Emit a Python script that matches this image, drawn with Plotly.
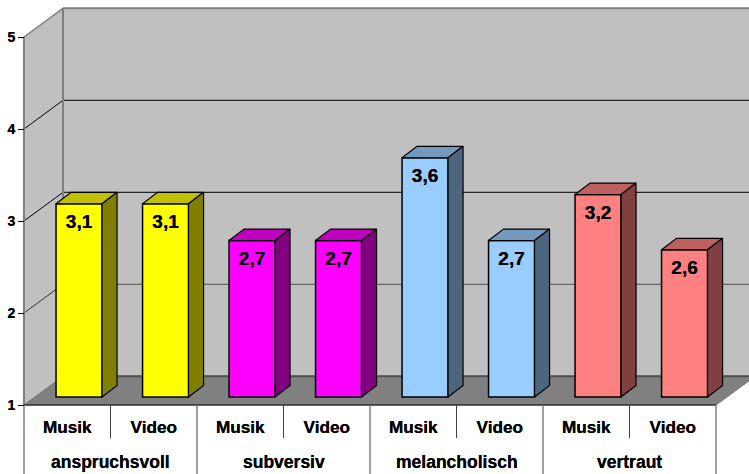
import plotly.graph_objects as go

groups = ["anspruchsvoll", "subversiv", "melancholisch", "vertraut"]
media = ["Musik", "Video"]
values = [3.1, 3.1, 2.7, 2.7, 3.6, 2.7, 3.2, 2.6]
front_colors = ["#FFFF00", "#FFFF00", "#FF00FF", "#FF00FF", "#99CCFF", "#99CCFF", "#FF8080", "#FF8080"]
top_colors = ["#C0C000", "#C0C000", "#C000C0", "#C000C0", "#7399BF", "#7399BF", "#BF6060", "#BF6060"]
side_colors = ["#808000", "#808000", "#800080", "#800080", "#4D6680", "#4D6680", "#804040", "#804040"]
value_ticks = [1, 2, 3, 4, 5]

W, H = 749, 474
PX_X, PX_Y = 86.5, 92.0          # pixels per category / per value unit
X0_PX, Y1_PX = 24.0, 405.0       # pixel of category 0 and of value 1
n = len(values)

wall_dx, wall_dy = 39 / PX_X, 28.7 / PX_Y
bar_dx, bar_dy = 11.8 / PX_X, 8 / PX_Y
depth_dx, depth_dy = 15 / PX_X, 11.5 / PX_Y
bar_w = 46 / PX_X

x_range = [-X0_PX / PX_X, (W - X0_PX) / PX_X]
y_range = [1 - (H - Y1_PX) / PX_Y, 1 + Y1_PX / PX_Y]
label_bottom = y_range[0]
sub_bottom = 1 - 33 / PX_Y
GREY = "#808080"
SHADOW = "0 0 0.6px #000000"


def poly(xs, ys, fill, line=None, width=1):
    path = "M " + " L ".join(f"{a},{b}" for a, b in zip(xs, ys)) + " Z"
    return dict(type="path", path=path, xref="x", yref="y", layer="below",
                fillcolor=fill, line=dict(color=line or fill, width=width))


def seg(x0, y0, x1, y1, color, width=1):
    return dict(type="line", x0=x0, y0=y0, x1=x1, y1=y1, xref="x", yref="y",
                layer="below", line=dict(color=color, width=width))


ymin, ymax = value_ticks[0], value_ticks[-1]
right_end = x_range[1] + 1
shapes = [
    poly([wall_dx, right_end, right_end, wall_dx],
         [ymin + wall_dy, ymin + wall_dy, ymax + wall_dy, ymax + wall_dy], "#C0C0C0"),
    poly([0, wall_dx, wall_dx, 0],
         [ymin, ymin + wall_dy, ymax + wall_dy, ymax], "#C0C0C0"),
    poly([0, wall_dx, n + wall_dx, n],
         [ymin, ymin + wall_dy, ymin + wall_dy, ymin], GREY),
]
for v in value_ticks[1:-1]:
    color = "#000000" if v > 2 else "#505050"
    shapes.append(seg(0, v, wall_dx, v + wall_dy, "#000000" if v > 2 else "#303030"))
    shapes.append(seg(wall_dx, v + wall_dy, right_end, v + wall_dy, color))
# wall edges
shapes += [
    seg(0, ymax, wall_dx, ymax + wall_dy, GREY, 1.5),
    seg(wall_dx, ymax + wall_dy, right_end, ymax + wall_dy, GREY, 2),
    seg(wall_dx, ymin + wall_dy, wall_dx, ymax + wall_dy, GREY, 2),
    seg(0, ymin, 0, ymax, GREY, 2),
    seg(wall_dx, ymin + wall_dy, right_end, ymin + wall_dy, "#505050", 2),
    seg(0, ymin, wall_dx, ymin + wall_dy, GREY, 1),
    seg(n, ymin, n + wall_dx, ymin + wall_dy, GREY, 1),
    seg(0, ymin, n, ymin, "#000000", 1),
]
# separators under the axis
for i in range(n + 1):
    if i % 2 == 0:
        shapes.append(seg(i, ymin, i, label_bottom, GREY, 1.5))
    else:
        shapes.append(seg(i, ymin, i, sub_bottom, "#404040", 1))

centers = [i + 0.5 + bar_dx for i in range(n)]
fig = go.Figure()
base = 1 + bar_dy
fig.add_bar(x=centers, y=[v - 1 for v in values], base=base, width=bar_w,
            marker=dict(color=front_colors, line=dict(color="#000000", width=1.5)),
            hoverinfo="skip", showlegend=False)

for i, v in enumerate(values):
    xl, xr = centers[i] - bar_w / 2, centers[i] + bar_w / 2
    top = v + bar_dy
    # top face
    fig.add_scatter(x=[xl, xl + depth_dx, xr + depth_dx, xr, xl],
                    y=[top, top + depth_dy, top + depth_dy, top, top],
                    mode="lines", fill="toself", fillcolor=top_colors[i],
                    line=dict(color="#000000", width=1.2), hoverinfo="skip", showlegend=False)
    # side face
    fig.add_scatter(x=[xr, xr + depth_dx, xr + depth_dx, xr, xr],
                    y=[top, top + depth_dy, base + depth_dy, base, top],
                    mode="lines", fill="toself", fillcolor=side_colors[i],
                    line=dict(color="#000000", width=1.2), hoverinfo="skip", showlegend=False)

fig.add_scatter(x=centers, y=[v + bar_dy - 19.5 / PX_Y for v in values],
                mode="text", text=[str(v).replace(".", ",") for v in values],
                textposition="middle center",
                textfont=dict(family="Liberation Sans", size=19, color="#000000", weight="bold",
                              shadow=SHADOW),
                hoverinfo="skip", showlegend=False)

annotations = [
    dict(x=2 * j + 1, y=1 - 57 / PX_Y, xref="x", yref="y", text=g, showarrow=False,
         xanchor="center", yanchor="middle",
         font=dict(family="Liberation Sans", size=17.5, color="#000000", weight="bold",
                   shadow=SHADOW))
    for j, g in enumerate(groups)
]

fig.update_layout(
    width=W, height=H, autosize=False, margin=dict(l=0, r=0, t=0, b=0, pad=0),
    paper_bgcolor="#FFFFFF", plot_bgcolor="rgba(0,0,0,0)", showlegend=False,
    shapes=shapes, annotations=annotations,
    xaxis=dict(range=x_range, domain=[0, 1], anchor="free", position=(H - Y1_PX) / H,
               tickmode="array", tickvals=[i + 0.5 for i in range(n)],
               ticktext=media * len(groups), ticks="", showgrid=False, zeroline=False, showline=False,
               ticklabelstandoff=10,
               tickfont=dict(family="Liberation Sans", size=17.2, color="#000000", weight="bold",
                             shadow=SHADOW)),
    yaxis=dict(range=y_range, domain=[0, 1], anchor="free", position=X0_PX / W,
               tickmode="array", tickvals=value_ticks, ticktext=[str(t) for t in value_ticks],
               ticks="outside", ticklen=6, tickcolor="#000000", tickwidth=1,
               showgrid=False, zeroline=False, showline=False,
               tickfont=dict(family="Liberation Sans", size=14, color="#000000", weight="bold",
                             shadow=SHADOW)),
)

fig.write_html("out.html", config={"displayModeBar": False},
               post_script="document.body.style.margin='0';document.body.style.overflow='hidden';")
